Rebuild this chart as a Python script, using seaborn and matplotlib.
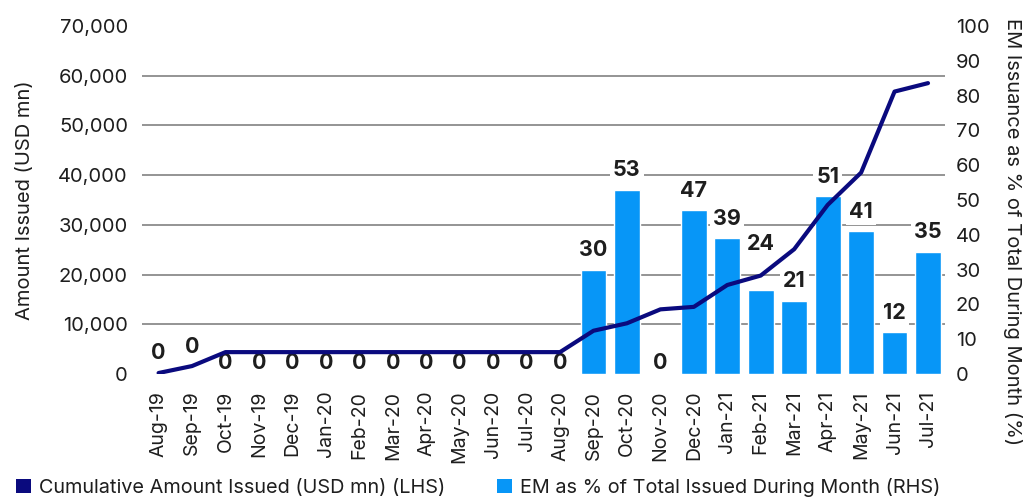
import matplotlib
matplotlib.use("Agg")
import matplotlib.pyplot as plt
from matplotlib.patches import Patch
from matplotlib.ticker import FuncFormatter, FixedLocator
import numpy as np
import pandas as pd
import seaborn as sns

# Monthly categories
months = ["Aug-19", "Sep-19", "Oct-19", "Nov-19", "Dec-19", "Jan-20", "Feb-20",
          "Mar-20", "Apr-20", "May-20", "Jun-20", "Jul-20", "Aug-20", "Sep-20",
          "Oct-20", "Nov-20", "Dec-20", "Jan-21", "Feb-21", "Mar-21", "Apr-21",
          "May-21", "Jun-21", "Jul-21"]

# Cumulative amount issued, USD mn (left axis)
cumulative_usd_mn = [200, 1600, 4400, 4400, 4400, 4400, 4400, 4400, 4400, 4400,
                     4400, 4400, 4400, 8700, 10200, 13000, 13500, 17900, 19800,
                     25100, 34000, 40500, 56800, 58500]

# EM share of total issued during the month, % (right axis)
em_share_pct = [0, 0, 0, 0, 0, 0, 0, 0, 0, 0, 0, 0, 0, 30, 53, 0, 47, 39, 24,
                21, 51, 41, 12, 35]

lhs_ticks = [0, 10000, 20000, 30000, 40000, 50000, 60000, 70000]
rhs_ticks = [0, 10, 20, 30, 40, 50, 60, 70, 80, 90, 100]

LINE_COLOR = "#0a0a7e"
BAR_COLOR = "#0796f7"
GRID_COLOR = "#777777"
TEXT_COLOR = "#1e1e1e"

sns.set_theme(style="white")
plt.rcParams["font.family"] = ["Inter", "DejaVu Sans"]
plt.rcParams["text.color"] = TEXT_COLOR
plt.rcParams["axes.labelcolor"] = TEXT_COLOR
plt.rcParams["xtick.color"] = TEXT_COLOR
plt.rcParams["ytick.color"] = TEXT_COLOR

df = pd.DataFrame({"month": months,
                   "cumulative": cumulative_usd_mn,
                   "share": em_share_pct})

fig = plt.figure(figsize=(10.28, 4.99), dpi=100)
ax = fig.add_axes([0.138, 0.2505, 0.781, 0.6975])
ax2 = ax.twinx()

# Bars on the right-hand scale
sns.barplot(data=df, x="month", y="share", ax=ax2, color=BAR_COLOR,
            width=0.77, saturation=1, zorder=2)
ax2.set_ylim(0, 100)
ax2.set_yticks(rhs_ticks)
# Horizontal guides follow the left-hand ticks
ax2.yaxis.set_minor_locator(FixedLocator([t / 70000 * 100 for t in lhs_ticks]))
ax2.grid(which="minor", axis="y", color=GRID_COLOR, linewidth=1.1, zorder=0)
ax2.grid(which="major", visible=False)
ax2.set_axisbelow(True)
ax2.tick_params(axis="y", which="both", length=0, pad=8, labelsize=14.5)
ax2.set_ylabel("EM Issuance as % of Total During Month (%)", fontsize=14.5,
               rotation=-90, labelpad=0)
ax2.yaxis.set_label_coords(1.096, 0.408)

# Value labels above the bars; a few are lifted clear of the line
offsets = {0: 8, 1: 12, 18: 26}
for i, v in enumerate(em_share_pct):
    dy = offsets.get(i, 7 if v > 0 else 1)
    ax2.annotate(f"{v}", xy=(i, v), xytext=(0, dy), textcoords="offset points",
                 ha="center", va="bottom", fontsize=15.5, fontweight="bold",
                 color=TEXT_COLOR, zorder=5,
                 bbox=dict(boxstyle="square,pad=0.15", fc="white", ec="none")
                 if v > 0 else None)

# Cumulative line on the left-hand scale, drawn above the bars
sns.lineplot(data=df, x="month", y="cumulative", ax=ax, color=LINE_COLOR,
             linewidth=3, sort=False, zorder=6)
ax.set_zorder(ax2.get_zorder() + 1)
ax.patch.set_visible(False)
ax.set_ylim(0, 70000)
ax.set_yticks(lhs_ticks)
ax.yaxis.set_major_formatter(FuncFormatter(lambda v, p: f"{int(v):,}"))
ax.set_xlim(-0.5, len(months) - 0.5)
ax.tick_params(axis="y", length=0, pad=10, labelsize=14.5)
ax.tick_params(axis="x", length=0, pad=12, labelsize=14, rotation=90)
ax.set_xlabel("")
ax.set_ylabel("Amount Issued (USD mn)", fontsize=14.5)
ax.yaxis.set_label_coords(-0.134, 0.5)
ax.grid(False)
ax2.set_xlabel("")

for a in (ax, ax2):
    for s in a.spines.values():
        s.set_visible(False)

handles = [Patch(facecolor=LINE_COLOR, edgecolor="none"),
           Patch(facecolor=BAR_COLOR, edgecolor="none")]
fig.legend(handles, ["Cumulative Amount Issued (USD mn) (LHS)",
                     "EM as % of Total Issued During Month (RHS)"],
           loc="lower left", bbox_to_anchor=(0.008, -0.012), ncol=2,
           frameon=False, fontsize=14.3, handlelength=0.75, handleheight=0.75,
           handletextpad=0.4, columnspacing=2.6, borderaxespad=0)

fig.savefig("out.png", dpi=100)
